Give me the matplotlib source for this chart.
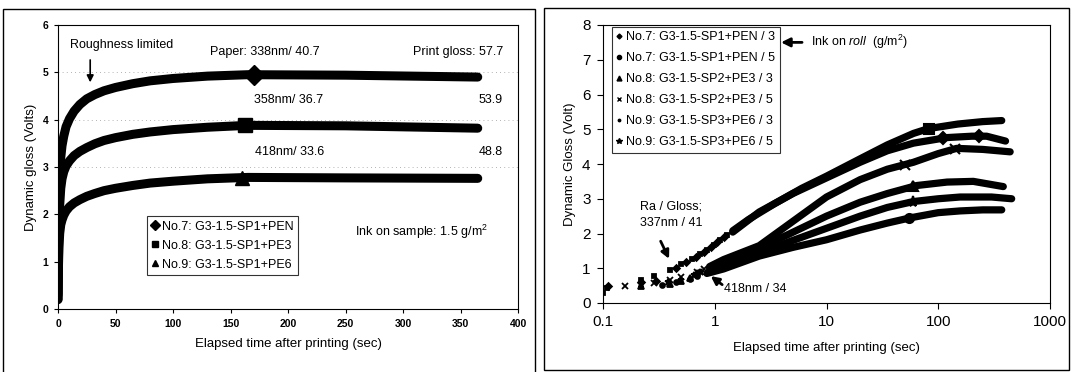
import numpy as np
import matplotlib
matplotlib.use("Agg")
import matplotlib.pyplot as plt
from matplotlib.lines import Line2D
from matplotlib.patches import Rectangle

plt.rcParams['font.family'] = ['Liberation Sans', 'DejaVu Sans']
plt.rcParams['mathtext.fontset'] = 'custom'
plt.rcParams['mathtext.rm'] = 'Liberation Sans'
plt.rcParams['mathtext.it'] = 'Liberation Sans:italic'

# ---- left panel: gloss vs linear time (sec), ink on sample 1.5 g/m2
t_left = [0, 0.3, 0.8, 1.5, 2.4, 3.5, 5, 7, 10, 14, 19, 25, 32, 40, 50, 65, 80, 100,
          130, 165, 250, 365]
v7 = [0.2, 1.2, 2.3, 2.9, 3.2, 3.45, 3.65, 3.85, 4.02, 4.18, 4.32, 4.44, 4.53, 4.61,
      4.68, 4.76, 4.82, 4.87, 4.92, 4.95, 4.94, 4.9]
v8 = [0.2, 0.9, 1.7, 2.2, 2.55, 2.75, 2.9, 3.02, 3.13, 3.24, 3.33, 3.41, 3.49, 3.56,
      3.62, 3.69, 3.74, 3.79, 3.84, 3.88, 3.87, 3.82]
v9 = [0.3, 0.8, 1.3, 1.6, 1.78, 1.88, 1.98, 2.07, 2.16, 2.24, 2.31, 2.38, 2.44, 2.5,
      2.55, 2.61, 2.66, 2.7, 2.75, 2.78, 2.77, 2.76]
left_names = ['No.7: G3-1.5-SP1+PEN', 'No.8: G3-1.5-SP1+PE3', 'No.9: G3-1.5-SP1+PE6']
left_mark_t = [170, 163, 160]

# ---- right panel: gloss vs log time, two ink levels on roll
names_r = ['No.7: G3-1.5-SP1+PEN / 3', 'No.7: G3-1.5-SP1+PEN / 5',
           'No.8: G3-1.5-SP2+PE3 / 3', 'No.8: G3-1.5-SP2+PE3 / 5',
           'No.9: G3-1.5-SP3+PE6 / 3', 'No.9: G3-1.5-SP3+PE6 / 5']
# thick (dense) part of each curve
tl_73 = [1.45, 2.5, 5, 10, 20, 35, 60, 119, 200, 271, 400]
vl_73 = [2.04, 2.62, 3.15, 3.6, 4.05, 4.38, 4.6, 4.76, 4.8, 4.8, 4.66]
tl_75 = [1.45, 2, 3.4, 6, 10, 20, 35, 60, 82, 150, 250, 370]
vl_75 = [2.08, 2.4, 2.85, 3.3, 3.65, 4.15, 4.55, 4.88, 5.02, 5.15, 5.22, 5.25]
tl_83 = [0.9, 1.2, 2.5, 4.4, 10, 20, 35, 64, 120, 206, 382]
vl_83 = [1.0, 1.2, 1.6, 1.95, 2.5, 2.9, 3.15, 3.38, 3.48, 3.5, 3.35]
tl_85 = [0.9, 1.2, 2.5, 5, 10, 20, 35, 60, 100, 146, 250, 440]
vl_85 = [1.05, 1.25, 1.65, 2.35, 3.05, 3.55, 3.85, 4.05, 4.3, 4.45, 4.42, 4.35]
tl_93 = [0.85, 1.2, 2.5, 5, 10, 20, 35, 56, 100, 157, 250, 370]
vl_93 = [0.85, 0.98, 1.35, 1.6, 1.82, 2.1, 2.3, 2.45, 2.6, 2.65, 2.68, 2.68]
tl_95 = [0.9, 1.2, 2.5, 5, 10, 20, 35, 60, 100, 157, 300, 454]
vl_95 = [0.95, 1.1, 1.45, 1.8, 2.15, 2.5, 2.75, 2.92, 3.0, 3.05, 3.05, 3.0]
# sparse early readings (t < ~1.4 s)
te_73 = [0.11, 0.22, 0.3, 0.45, 0.55, 0.68, 0.8, 0.92, 1.05, 1.2]
ve_73 = [0.5, 0.6, 0.62, 1.0, 1.18, 1.33, 1.47, 1.6, 1.75, 1.9]
te_75 = [0.1, 0.108, 0.22, 0.286, 0.4, 0.5, 0.62, 0.74, 0.85, 0.98, 1.12, 1.28]
ve_75 = [0.3, 0.43, 0.65, 0.79, 0.94, 1.11, 1.26, 1.4, 1.53, 1.67, 1.82, 1.97]
te_83 = [0.22, 0.4, 0.5, 0.6, 0.7]
ve_83 = [0.5, 0.55, 0.62, 0.72, 0.85]
te_85 = [0.157, 0.286, 0.4, 0.5, 0.7, 0.8]
ve_85 = [0.48, 0.57, 0.65, 0.75, 0.9, 0.97]
te_93 = [0.34, 0.45, 0.6, 0.7]
ve_93 = [0.53, 0.6, 0.7, 0.78]
te_95 = [0.22, 0.38, 0.5, 0.65, 0.75]
ve_95 = [0.55, 0.6, 0.66, 0.8, 0.9]
mark_r = [[110, 230], [82], [60], [50, 140], [55], [60]]

W, H = 1074, 372
fig = plt.figure(figsize=(W / 100, H / 100), dpi=100)

def px_rect(x0, y0, x1, y1):
    return [x0 / W, 1 - y1 / H, (x1 - x0) / W, (y1 - y0) / H]

# outer frames
for x0, y0, x1, y1 in [(3, 9, 535, 374), (544, 8, 1069, 370)]:
    r = px_rect(x0, y0, x1, y1)
    fig.add_artist(Rectangle((r[0], r[1]), r[2], r[3], transform=fig.transFigure,
                             fill=False, lw=1.0, ec='black'))

# ================= left =================
ax1 = fig.add_axes(px_rect(58, 25, 518, 309))
for y in [3, 4, 5]:
    ax1.axhline(y, color='#999999', lw=0.6, ls=(0, (1, 4)), zorder=0)
for v, m, mt in zip([v7, v8, v9], ['D', 's', '^'], left_mark_t):
    ax1.plot(t_left, v, color='black', lw=6.5, solid_capstyle='round',
             solid_joinstyle='round')
    ax1.plot([mt], [np.interp(mt, t_left, v)], marker=m, color='black', ms=10, ls='none')
ax1.set_xlim(0, 400)
ax1.set_ylim(0, 6)
ax1.set_xticks(np.arange(0, 401, 50))
ax1.set_yticks(np.arange(0, 7, 1))
ax1.tick_params(labelsize=7.5, length=3, width=0.8, pad=4)
for lab in ax1.get_xticklabels() + ax1.get_yticklabels():
    lab.set_fontweight('bold')
ax1.set_xlabel('Elapsed time after printing (sec)', fontsize=9.5, labelpad=7)
ax1.set_ylabel('Dynamic gloss (Volts)', fontsize=9.5, labelpad=4)

h_l = [Line2D([], [], marker=m, color='black', ls='none', ms=5) for m in ['D', 's', '^']]
leg = ax1.legend(h_l, left_names, loc='lower left', bbox_to_anchor=(0.193, 0.12),
                 fontsize=9, frameon=True, fancybox=False, edgecolor='black',
                 handlelength=0.6, handletextpad=0.3, borderpad=0.35, labelspacing=0.55,
                 borderaxespad=0)
leg.get_frame().set_linewidth(0.8)

ax1.text(10.5, 5.58, 'Roughness limited', fontsize=9, va='center')
ax1.annotate('', xy=(28, 4.73), xytext=(28, 5.32),
             arrowprops=dict(arrowstyle='-|>', color='black', lw=1.2, mutation_scale=10))
ax1.text(132, 5.44, 'Paper: 338nm/ 40.7', fontsize=9, va='center')
ax1.text(387, 5.44, 'Print gloss: 57.7', fontsize=9, va='center', ha='right')
ax1.text(170, 4.42, '358nm/ 36.7', fontsize=9, va='center')
ax1.text(387, 4.42, '53.9', fontsize=9, va='center', ha='right')
ax1.text(171, 3.32, '418nm/ 33.6', fontsize=9, va='center')
ax1.text(387, 3.32, '48.8', fontsize=9, va='center', ha='right')
ax1.text(258, 1.63, 'Ink on sample: 1.5 g/m$^2$', fontsize=9, va='center')

# ================= right =================
ax2 = fig.add_axes(px_rect(603, 25, 1050, 303))
ax2.set_xscale('log')
series_r = [(tl_73, vl_73, te_73, ve_73, 'D', 3.5),
            (tl_75, vl_75, te_75, ve_75, 's', 3.5),
            (tl_83, vl_83, te_83, ve_83, '^', 4),
            (tl_85, vl_85, te_85, ve_85, 'x', 4),
            (tl_93, vl_93, te_93, ve_93, 'o', 3.5),
            (tl_95, vl_95, te_95, ve_95, '*', 5)]
for (tl, vl, te, ve, m, ms), mk in zip(series_r, mark_r):
    ax2.plot(tl, vl, color='black', lw=5.2, solid_capstyle='round', solid_joinstyle='round')
    ax2.plot(te, ve, marker=m, color='black', ms=ms, ls='none', mew=1.3)
    ax2.plot(mk, np.interp(np.log(mk), np.log(tl), vl), marker=m, color='black',
             ms=ms + 3, ls='none', mew=1.5)
ax2.set_xlim(0.1, 1000)
ax2.set_ylim(0, 8)
ax2.set_xticks([0.1, 1, 10, 100, 1000])
ax2.set_xticklabels(['0.1', '1', '10', '100', '1000'])
ax2.xaxis.set_minor_locator(matplotlib.ticker.NullLocator())
ax2.set_yticks(np.arange(0, 9, 1))
ax2.tick_params(labelsize=11, length=4, width=0.8, pad=5)
ax2.set_xlabel('Elapsed time after printing (sec)', fontsize=9.5, labelpad=9)
ax2.set_ylabel('Dynamic Gloss (Volt)', fontsize=9.5, labelpad=4)

h_r = [Line2D([], [], marker=m, color='black', ls='none', ms=ms, mew=1)
       for m, ms in [('D', 2.5), ('o', 3), ('^', 3.5), ('x', 3.5), ('.', 3.5), ('*', 4)]]
leg2 = ax2.legend(h_r, names_r, loc='upper left', bbox_to_anchor=(0.02, 0.993),
                  fontsize=9, frameon=True, fancybox=False, edgecolor='black',
                  handlelength=0.5, handletextpad=0.3, borderpad=0.35, labelspacing=0.72,
                  borderaxespad=0)
leg2.get_frame().set_linewidth(0.8)

ax2.annotate('', xy=(3.7, 7.5), xytext=(6.4, 7.5),
             arrowprops=dict(arrowstyle='-|>', color='black', lw=2, mutation_scale=13))
ax2.text(7.3, 7.5, r'Ink on $\it{roll}$  (g/m$^2$)', fontsize=9, va='center')
ax2.text(0.214, 2.77, 'Ra / Gloss;', fontsize=9, va='center')
ax2.text(0.214, 2.3, '337nm / 41', fontsize=9, va='center')
ax2.annotate('', xy=(0.4, 1.2), xytext=(0.32, 1.85),
             arrowprops=dict(arrowstyle='-|>', color='black', lw=2, mutation_scale=12))
ax2.annotate('', xy=(0.88, 0.82), xytext=(1.22, 0.48),
             arrowprops=dict(arrowstyle='-|>', color='black', lw=2, mutation_scale=12))
ax2.text(1.22, 0.4, '418nm / 34', fontsize=9, va='center')

fig.savefig('out.png', dpi=100)
